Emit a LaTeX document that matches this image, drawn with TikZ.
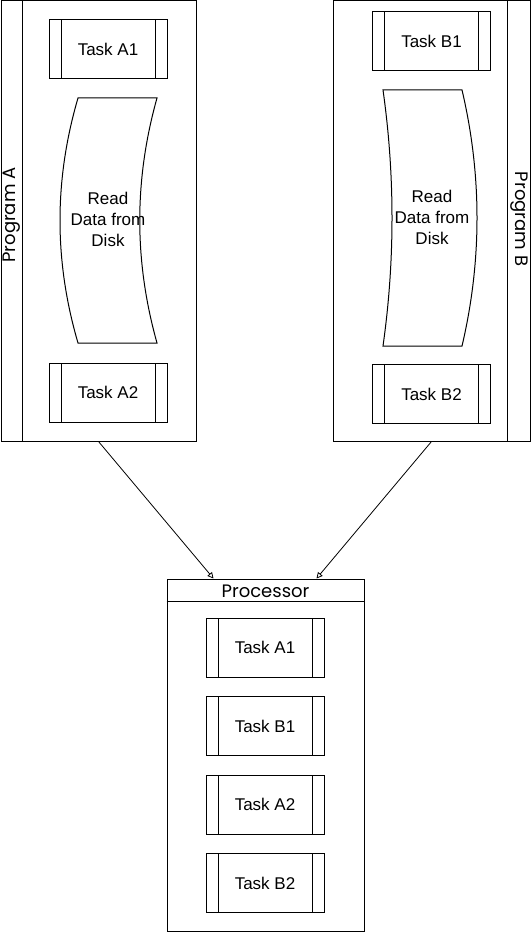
\documentclass[tikz,border=0pt]{standalone}
\usepackage{fontspec}
\setmainfont{Liberation Sans}
\newfontfamily\handfont{Poppins}
\usetikzlibrary{arrows.meta,positioning}

\tikzset{
  task/.style={draw, line width=1pt, minimum width=118pt, minimum height=59pt,
    font=\fontsize{17}{20}\selectfont,
    path picture={\draw[line width=1pt]
      ([xshift=12pt]path picture bounding box.north west) -- ([xshift=12pt]path picture bounding box.south west)
      ([xshift=-12pt]path picture bounding box.north east) -- ([xshift=-12pt]path picture bounding box.south east);}},
  lane/.style={draw, line width=1pt, inner sep=0pt},
  lanetitle/.style={font=\handfont\fontsize{18}{20}\selectfont},
  diskstore/.style={line width=1pt},
  disktext/.style={align=center, font=\fontsize{17}{21}\selectfont},
  flow/.style={-{Triangle[open,length=6pt,width=6pt]}, line width=0.8pt}
}

\begin{document}
\begin{tikzpicture}[x=1pt,y=-1pt]
  \useasboundingbox (0,0) rectangle (531,933);

  % program A
  \node[lane, minimum width=195pt, minimum height=440pt] (progA) at (98.5,221) {};
  \draw[line width=1pt] ([xshift=22pt]progA.north west) -- ([xshift=22pt]progA.south west);
  \node[lanetitle, rotate=90] (titleA) at (11.5,215) {Program A};
  \node[task] (taskA1) at (108,49) {Task A1};
  \draw[diskstore] (78,98) -- (157,98) .. controls (134,180) and (134,261) .. (157,343) -- (78,343) .. controls (54,261) and (54,180) .. (78,98) -- cycle;
  \node[disktext] (diskA) at (108,219) {Read\\Data from\\Disk};
  \node[task] (taskA2) at (108,392.5) {Task A2};

  % program B
  \node[lane, minimum width=197pt, minimum height=440pt] (progB) at (431.5,221) {};
  \draw[line width=1pt] ([xshift=-23pt]progB.north east) -- ([xshift=-23pt]progB.south east);
  \node[lanetitle, rotate=-90] (titleB) at (519,219) {Program B};
  \node[task] (taskB1) at (431.5,41.5) {Task B1};
  \draw[diskstore] (383,90) -- (462,90) .. controls (482,175) and (482,261) .. (462,346) -- (383,346) .. controls (395,261) and (395,175) .. (383,90) -- cycle;
  \node[disktext] (diskB) at (432,217) {Read\\Data from\\Disk};
  \node[task] (taskB2) at (431.5,394) {Task B2};

  % processor
  \node[lane, minimum width=197pt, minimum height=352pt] (proc) at (265.5,755) {};
  \draw[line width=1pt] ([yshift=-23pt]proc.north west) -- ([yshift=-23pt]proc.north east);
  \node[lanetitle] (titleP) at (265.5,591) {Processor};
  \node[task] (pA1) at (265,647.5) {Task A1};
  \node[task] (pB1) at (265,726) {Task B1};
  \node[task] (pA2) at (265,804.5) {Task A2};
  \node[task] (pB2) at (265,883) {Task B2};

  \draw[flow] (progA.south) -- ([xshift=-52pt]proc.north);
  \draw[flow] (progB.south) -- ([xshift=51pt]proc.north);
\end{tikzpicture}
\end{document}
